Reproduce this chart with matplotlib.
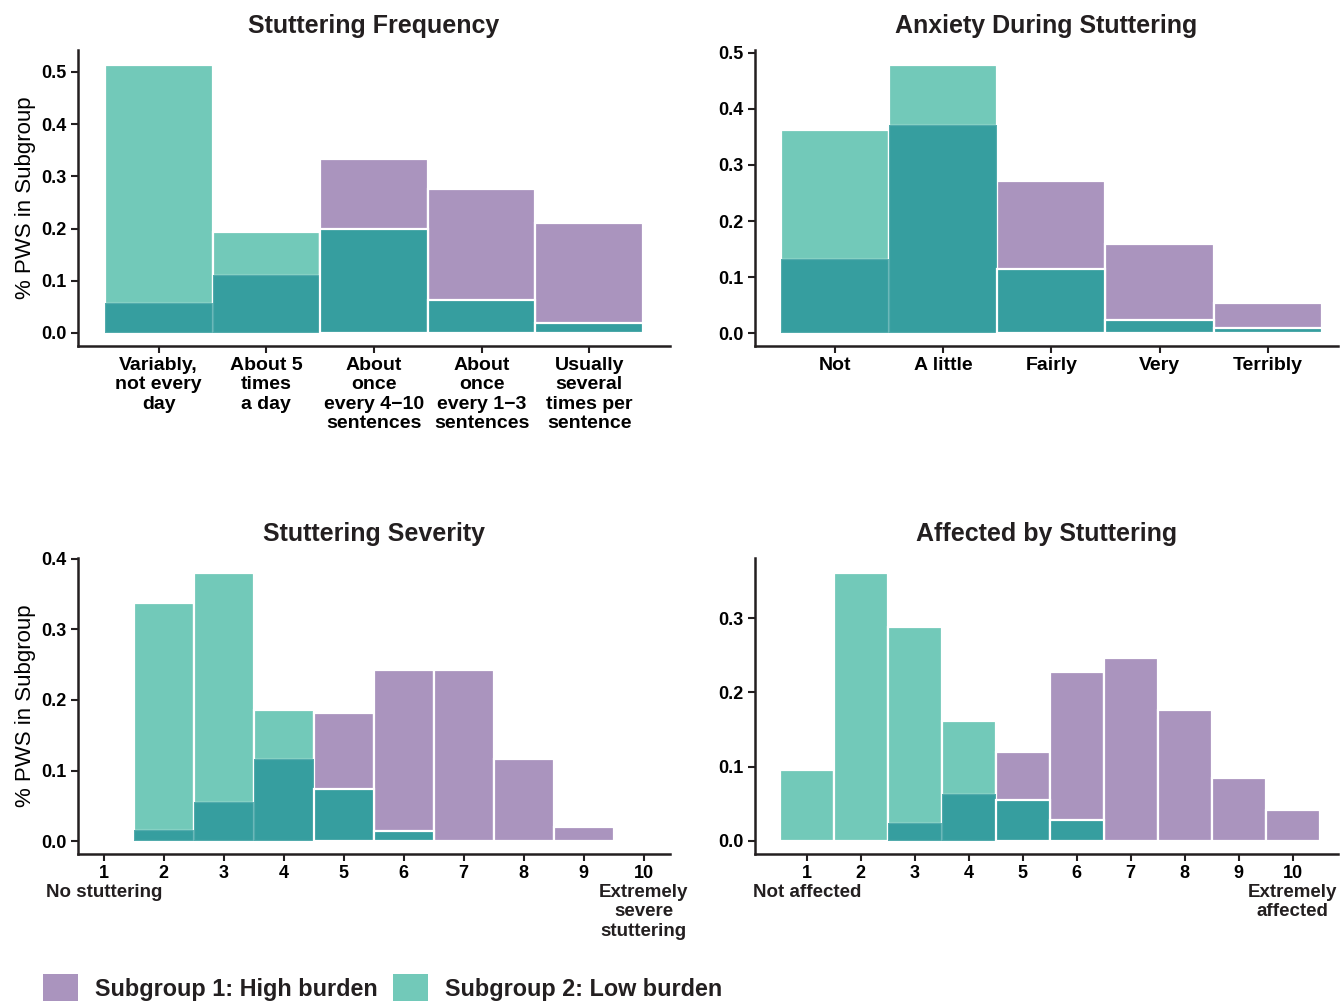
import matplotlib
matplotlib.use("Agg")
import matplotlib.pyplot as plt
from matplotlib.patches import Patch
import matplotlib.transforms as mtransforms
import numpy as np

PURPLE = "#aa94be"
TEAL = "#72c9b9"
DARK = "#369e9f"
INK = "#231f20"

freq_labels = ["Variably,\nnot every\nday", "About 5\ntimes\na day", "About\nonce\nevery 4\u221210\nsentences",
               "About\nonce\nevery 1\u22123\nsentences", "Usually\nseveral\ntimes per\nsentence"]
freq_sg1 = [0.057, 0.111, 0.333, 0.276, 0.211]
freq_sg2 = [0.513, 0.193, 0.200, 0.063, 0.019]

anx_labels = ["Not", "A little", "Fairly", "Very", "Terribly"]
anx_sg1 = [0.132, 0.372, 0.272, 0.159, 0.054]
anx_sg2 = [0.363, 0.479, 0.114, 0.024, 0.009]

scale_pos = list(range(1, 11))
scale_labels = [str(v) for v in scale_pos]
sev_ends = ["No stuttering", "Extremely\nsevere\nstuttering"]
sev_sg1 = [0.0, 0.016, 0.055, 0.117, 0.181, 0.242, 0.242, 0.116, 0.020, 0.0]
sev_sg2 = [0.0, 0.337, 0.380, 0.186, 0.074, 0.015, 0.0, 0.0, 0.0, 0.0]

aff_ends = ["Not affected", "Extremely\naffected"]
aff_sg1 = [0.0, 0.0, 0.024, 0.063, 0.120, 0.228, 0.246, 0.176, 0.085, 0.042]
aff_sg2 = [0.095, 0.361, 0.288, 0.162, 0.055, 0.028, 0.0, 0.0, 0.0, 0.0]

plt.rcParams["font.family"] = ["Liberation Sans", "DejaVu Sans"]
plt.rcParams["text.color"] = INK
plt.rcParams["axes.edgecolor"] = INK


def panel(ax, x, labels, sg1, sg2, title, xlim, ylim, yticks, xfs=14, ylabel=False):
    sg1 = np.asarray(sg1)
    sg2 = np.asarray(sg2)
    top = np.maximum(sg1, sg2)
    low = np.minimum(sg1, sg2)
    top_col = [PURPLE if a > b else TEAL for a, b in zip(sg1, sg2)]
    ax.bar(x, top, width=1.0, color=top_col, edgecolor="white", linewidth=1.6)
    for xi, lo, a, b in zip(x, low, sg1, sg2):
        if lo > 0:
            ax.bar(xi, lo, width=1.0, color=DARK,
                   edgecolor="white" if a > b else (1, 1, 1, 0.15), linewidth=1.6)
    ax.set_xlim(*xlim)
    ax.set_ylim(*ylim)
    ax.set_yticks(yticks)
    ax.set_yticklabels([f"{t:.1f}" for t in yticks], fontsize=13, fontweight="bold")
    ax.set_xticks(x)
    ax.set_xticklabels(labels, fontsize=xfs, fontweight="bold", linespacing=1.17)
    ax.set_title(title, fontsize=18, fontweight="bold", pad=12)
    for s in ("top", "right"):
        ax.spines[s].set_visible(False)
    for s in ("left", "bottom"):
        ax.spines[s].set_linewidth(1.8)
    ax.tick_params(length=5, width=1.5, color=INK, pad=3)
    if ylabel:
        ax.set_ylabel("% PWS in Subgroup", fontsize=16, labelpad=4)


def scale_ends(ax, ends):
    # anchor descriptions under the first and last points of the 1-10 scale
    trans = mtransforms.blended_transform_factory(ax.transData, ax.transAxes)
    for xv, txt in zip((1, 10), ends):
        ax.text(xv, -0.1, txt, transform=trans, ha="center", va="top",
                fontsize=13.5, fontweight="bold", linespacing=1.2)


fig = plt.figure(figsize=(13.4, 10.01), dpi=100)
ax1 = fig.add_axes([0.0582, 0.6543, 0.4418, 0.2957])
ax2 = fig.add_axes([0.5634, 0.6543, 0.4351, 0.2957])
ax3 = fig.add_axes([0.0582, 0.1469, 0.4418, 0.2957])
ax4 = fig.add_axes([0.5634, 0.1469, 0.4351, 0.2957])

cats = np.arange(5)
panel(ax1, cats, freq_labels, freq_sg1, freq_sg2, "Stuttering Frequency",
      (-0.75, 4.75), (-0.025, 0.542), [0.0, 0.1, 0.2, 0.3, 0.4, 0.5], ylabel=True)
panel(ax2, cats, anx_labels, anx_sg1, anx_sg2, "Anxiety During Stuttering",
      (-0.74, 4.65), (-0.023, 0.505), [0.0, 0.1, 0.2, 0.3, 0.4, 0.5])
panel(ax3, scale_pos, scale_labels, sev_sg1, sev_sg2, "Stuttering Severity",
      (0.57, 10.44), (-0.018, 0.401), [0.0, 0.1, 0.2, 0.3, 0.4], xfs=13, ylabel=True)
panel(ax4, scale_pos, scale_labels, aff_sg1, aff_sg2, "Affected by Stuttering",
      (0.04, 10.84), (-0.0175, 0.381), [0.0, 0.1, 0.2, 0.3], xfs=13)
scale_ends(ax3, sev_ends)
scale_ends(ax4, aff_ends)

handles = [Patch(facecolor=PURPLE, label="Subgroup 1: High burden"),
           Patch(facecolor=TEAL, label="Subgroup 2: Low burden")]
fig.legend(handles=handles, loc="center left", bbox_to_anchor=(0.032, 0.013), ncol=2,
           frameon=False, prop={"size": 16.8, "weight": "bold"}, handlelength=1.5,
           handleheight=1.5, handletextpad=0.73, columnspacing=0.65, borderpad=0,
           borderaxespad=0)

fig.savefig("out.png", dpi=100)
